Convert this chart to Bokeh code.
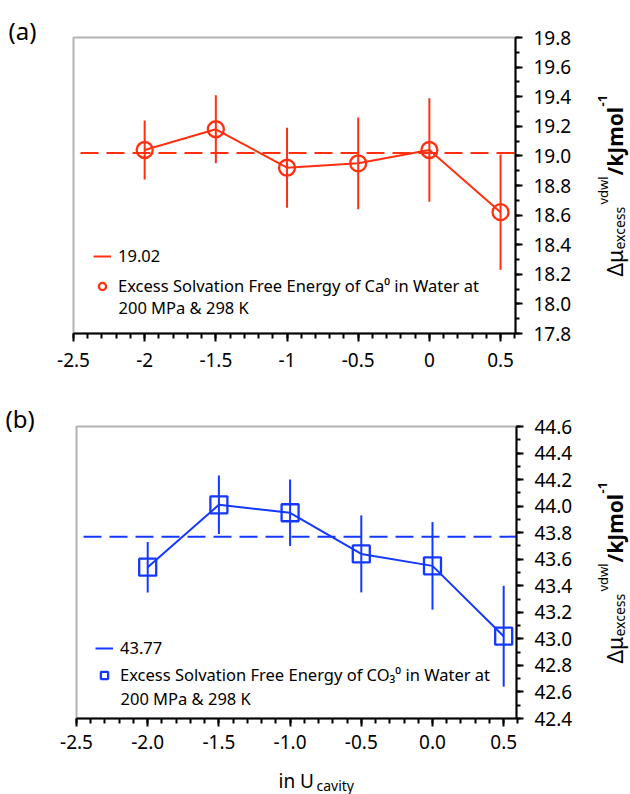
import math
from bokeh.plotting import figure
from bokeh.models import (Range1d, FixedTicker, CustomJSTickFormatter, PrintfTickFormatter,
                          Label, Legend, LegendItem, ColumnDataSource, LinearAxis, BoxAnnotation)
from bokeh.layouts import column
from bokeh.embed import file_html
from bokeh.resources import INLINE

# ---------------- data ----------------
lam = [-2.0, -1.5, -1.0, -0.5, 0.0, 0.5]

ca_dmu = [19.04, 19.18, 18.92, 18.95, 19.04, 18.62]
ca_err = [0.20, 0.23, 0.27, 0.31, 0.35, 0.39]
ca_mean = 19.02

co3_dmu = [43.54, 44.01, 43.95, 43.64, 43.55, 43.02]
co3_err = [0.19, 0.22, 0.25, 0.29, 0.33, 0.38]
co3_mean = 43.77

x_major = [-2.5, -2.0, -1.5, -1.0, -0.5, 0.0, 0.5]
ca_y_major = [17.8, 18.0, 18.2, 18.4, 18.6, 18.8, 19.0, 19.2, 19.4, 19.6, 19.8]
co3_y_major = [42.4, 42.6, 42.8, 43.0, 43.2, 43.4, 43.6, 43.8, 44.0, 44.2, 44.4, 44.6]

ca_legend = ["19.02", "Excess Solvation Free Energy of Ca\u2070 in Water at", "200 MPa & 298 K"]
co3_legend = ["43.77", "Excess Solvation Free Energy of CO\u2083\u2070 in Water at", "200 MPa & 298 K"]

RED = "#ff3010"
BLUE = "#1438ff"
FONT = "Noto Sans"
W = 630


def make_panel(H, box, xr, yr, ymajor, vals, errs, mean, color, marker, msize,
               leg_texts, leg_pos, leg_spacing, leg_line2_y, panel_tag, tag_pos,
               xfmt, x_standoff, ytitle_center, xtitle=None):
    # box: pixel geometry of the plot box inside the canvas (left, right, top, bottom)
    bl, br, bt, bb = box
    kx = (xr[1] - xr[0]) / (br - bl)
    ky = (yr[1] - yr[0]) / (bb - bt)
    xs, xe = xr[0] - bl * kx, xr[1] + (W - br) * kx
    ye, ys = yr[1] + bt * ky, yr[0] - (H - bb) * ky

    p = figure(width=W, height=H, x_range=Range1d(xs, xe), y_range=Range1d(ys, ye),
               x_axis_location=None, y_axis_location=None,
               output_backend="svg", toolbar_location=None,
               min_border_left=0, min_border_right=0, min_border_top=0, min_border_bottom=0)
    p.outline_line_color = None
    p.xgrid.visible = False
    p.ygrid.visible = False
    p.background_fill_color = "white"
    p.border_fill_color = "white"

    def px2x(px):
        return xs + px * kx

    def px2y(py):
        return ye - py * ky

    # plot box
    p.add_layout(BoxAnnotation(left=xr[0], right=xr[1], bottom=yr[0], top=yr[1],
                               fill_alpha=0, line_color="black", line_width=2, level="underlay"))

    # axes drawn at the box edges
    xminor = [round(-2.5 + 0.1 * i, 1) for i in range(32)]
    xax = LinearAxis(fixed_location=yr[0], bounds=(xr[0], xr[1]),
                     ticker=FixedTicker(ticks=x_major, minor_ticks=xminor), formatter=xfmt)
    ystep = 0.1
    yminor = [round(yr[0] + ystep * i, 1) for i in range(int(round((yr[1] - yr[0]) / ystep)) + 1)]
    yax = LinearAxis(fixed_location=xr[1], bounds=(yr[0], yr[1]),
                     ticker=FixedTicker(ticks=ymajor, minor_ticks=yminor),
                     formatter=PrintfTickFormatter(format="%.1f"))
    for ax in (xax, yax):
        ax.axis_line_width = 2
        ax.axis_line_color = "black"
        ax.major_tick_line_width = 2
        ax.minor_tick_line_width = 2
        ax.major_tick_in = 0
        ax.minor_tick_in = 0
        ax.major_label_text_font = FONT
        ax.major_label_text_color = "black"
        ax.major_label_text_font_size = "19px"
    xax.major_tick_out = 8
    xax.minor_tick_out = 5
    xax.major_label_standoff = x_standoff
    yax.major_tick_out = 7
    yax.minor_tick_out = 4
    yax.major_label_standoff = 11
    p.add_layout(xax, "below")
    p.add_layout(yax, "right")

    # data
    src = ColumnDataSource(dict(x=lam, y=vals,
                                lo=[v - e for v, e in zip(vals, errs)],
                                hi=[v + e for v, e in zip(vals, errs)]))
    p.segment(x0="x", y0="lo", x1="x", y1="hi", source=src, line_color=color, line_width=2)
    mean_r = p.line(x=[px2x(bl + 7), xr[1]], y=[mean, mean], line_color=color, line_width=2,
                    line_dash="18 8")
    p.line(x="x", y="y", source=src, line_color=color, line_width=2)
    mark_r = p.scatter(x="x", y="y", source=src, marker=marker, size=msize, fill_color=None,
                       line_color=color, line_width=2.3)

    leg = Legend(items=[LegendItem(label=leg_texts[0], renderers=[mean_r]),
                        LegendItem(label=leg_texts[1], renderers=[mark_r])],
                 location=leg_pos, orientation="vertical", padding=0, spacing=leg_spacing,
                 glyph_width=18, glyph_height=20, label_standoff=7, margin=0,
                 background_fill_alpha=0, border_line_alpha=0,
                 label_text_font=FONT, label_text_font_size="16.5px",
                 label_text_color="black", label_height=20)
    p.add_layout(leg, "center")
    p.add_layout(Label(x=px2x(leg_pos[0] + 18 + 7), y=px2y(leg_line2_y), text=leg_texts[2],
                       text_font=FONT, text_font_size="16.5px", text_baseline="middle",
                       text_align="left", text_color="black"))

    # panel tag
    p.add_layout(Label(x=px2x(tag_pos[0]), y=px2y(tag_pos[1]), text=panel_tag,
                       text_font=FONT, text_font_size="24px", text_baseline="alphabetic",
                       text_align="left", text_color="black"))

    # right axis title (rotated, reads bottom to top, built from pieces)
    start = ytitle_center + 91
    pieces = [  # text, offset along, centre-line x px, size, bold
        ("\u0394\u03bc", 0, 614, 21, False),
        ("excess", 27, 619, 14, False),
        ("vdwl", 72, 602, 13, False),
        ("/kJmol", 101, 614, 21, True),
        ("-1", 170, 602, 13, True),
    ]
    for txt, off, cx, sz, bold in pieces:
        p.add_layout(Label(x=px2x(cx), y=px2y(start - off), text=txt, angle=math.pi / 2,
                           text_font=FONT, text_font_size=f"{sz}px",
                           text_font_style="bold" if bold else "normal",
                           text_align="left", text_baseline="middle",
                           text_color="black"))

    if xtitle is not None:
        for t, xp, yp, s in xtitle:
            p.add_layout(Label(x=px2x(xp), y=px2y(yp), text=t, text_font=FONT,
                               text_font_size=f"{s}px", text_align="left",
                               text_baseline="alphabetic", text_color="black"))
    return p


H1 = 392
H2 = 794 - H1

p1 = make_panel(H1, (73, 515, 37, 333), (-2.5, 0.605), (17.8, 19.8), ca_y_major,
                ca_dmu, ca_err, ca_mean, RED, "circle", 16,
                ca_legend, (93, H1 - 297), 7, 307, "(a)", (8, 30),
                CustomJSTickFormatter(code="return tick.toString();"), 11, 185)

p2 = make_panel(H2, (76, 516, 34, 326), (-2.5, 0.59), (42.4, 44.6), co3_y_major,
                co3_dmu, co3_err, co3_mean, BLUE, "square", 17,
                co3_legend, (95, H2 - 294), 4, 306, "(b)", (5, 26),
                PrintfTickFormatter(format="%.1f"), 8, 180,
                xtitle=[("in U", 278, 388, 19), ("cavity", 316, 393, 14)])

layout = column(p1, p2, spacing=0)
open("out.html", "w").write(file_html(layout, INLINE))
